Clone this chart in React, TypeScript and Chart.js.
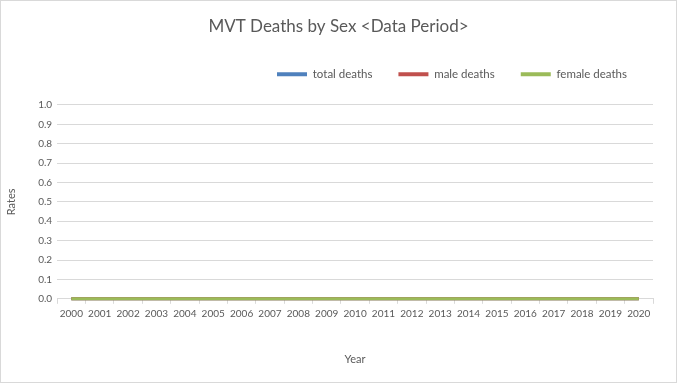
import React, { useEffect, useRef } from "react";
import { Chart, registerables } from "chart.js";

Chart.register(...registerables);

const years = ["2000","2001","2002","2003","2004","2005","2006","2007","2008","2009","2010","2011","2012","2013","2014","2015","2016","2017","2018","2019","2020"];
const totalDeaths = [0,0,0,0,0,0,0,0,0,0,0,0,0,0,0,0,0,0,0,0,0];
const maleDeaths = [0,0,0,0,0,0,0,0,0,0,0,0,0,0,0,0,0,0,0,0,0];
const femaleDeaths = [0,0,0,0,0,0,0,0,0,0,0,0,0,0,0,0,0,0,0,0,0];
const seriesNames = ["total deaths", "male deaths", "female deaths"];
const seriesColors = ["#4F81BD", "#C0504D", "#9BBB59"];
const titleText = "MVT Deaths by Sex <Data Period>";
const yTitle = "Rates";
const xTitle = "Year";

const TEXT = "#595959";
const GRID = "#D9D9D9";
const FONT = "Lato";

export default function App() {
  const ref = useRef<HTMLCanvasElement | null>(null);
  useEffect(() => {
    if (!ref.current) return;
    const frame = {
      id: "frame",
      beforeDraw(chart: any) {
        const c = chart.ctx;
        c.save();
        c.fillStyle = "#ffffff";
        c.fillRect(0, 0, chart.width, chart.height);
        c.strokeStyle = GRID;
        c.lineWidth = 1;
        c.strokeRect(0.5, 0.5, chart.width - 1, chart.height - 1);
        c.restore();
      },
    };
    const legendGap = {
      id: "legendGap",
      beforeLayout(chart: any) {
        const lg = chart.legend;
        if (lg && !lg.__patched) {
          const fit = lg.fit;
          lg.fit = function () {
            fit.call(this);
            this.height += 15;
          };
          lg.__patched = true;
        }
      },
    };
    const mk = (label: string, data: number[], color: string, order: number) => ({
      label,
      data,
      borderColor: color,
      backgroundColor: color,
      borderWidth: 3,
      pointRadius: 0,
      pointHoverRadius: 0,
      tension: 0,
      fill: false,
      clip: false,
      order,
    });
    const chart = new Chart(ref.current, {
      type: "line",
      data: {
        labels: years,
        datasets: [
          mk(seriesNames[0], totalDeaths, seriesColors[0], 2),
          mk(seriesNames[1], maleDeaths, seriesColors[1], 1),
          mk(seriesNames[2], femaleDeaths, seriesColors[2], 0),
        ],
      },
      options: {
        animation: false,
        responsive: false,
        devicePixelRatio: 1,
        layout: { padding: { left: 0, right: 0, top: 0, bottom: 0 } },
        plugins: {
          tooltip: { enabled: false },
          title: {
            display: true,
            text: titleText,
            color: TEXT,
            font: { family: FONT, size: 17, weight: "normal" },
            padding: { top: 16, bottom: 6 },
          },
          legend: {
            display: true,
            position: "top",
            align: "end",
            fullSize: false,
            labels: {
              color: TEXT,
              font: { family: FONT, size: 11.5 },
              boxWidth: 30,
              boxHeight: 4,
              padding: 26,
              sort: (a: any, b: any) => a.datasetIndex - b.datasetIndex,
              generateLabels: (chart: any) =>
                Chart.defaults.plugins.legend.labels
                  .generateLabels(chart)
                  .map((l: any) => ({ ...l, lineWidth: 0, fillStyle: l.strokeStyle })),
            },
          },
        },
        scales: {
          x: {
            type: "category",
            offset: true,
            grid: {
              display: true,
              offset: true,
              drawOnChartArea: false,
              drawTicks: true,
              tickLength: 5,
              color: GRID,
            },
            border: { display: true, color: GRID },
            ticks: {
              color: TEXT,
              font: { family: FONT, size: 10 },
              padding: 4,
              autoSkip: false,
              maxRotation: 0,
              minRotation: 0,
            },
            title: {
              display: true,
              text: xTitle,
              color: TEXT,
              font: { family: FONT, size: 11 },
              padding: { top: 29, bottom: 17 },
            },
          },
          y: {
            min: 0,
            max: 1,
            grid: { color: GRID, drawTicks: false },
            border: { display: false },
            ticks: {
              stepSize: 0.1,
              color: TEXT,
              font: { family: FONT, size: 10 },
              padding: 5,
              callback: (v: any) => Number(v).toFixed(1),
            },
            title: {
              display: true,
              text: yTitle,
              color: TEXT,
              font: { family: FONT, size: 11 },
              padding: { top: 5, bottom: 15 },
            },
          },
          yRight: {
            type: "linear",
            position: "right",
            display: true,
            grid: { display: false, drawTicks: false },
            border: { display: false },
            ticks: { display: false },
            afterFit: (s: any) => {
              s.width = 24;
            },
          },
        },
      },
      plugins: [frame, legendGap],
    } as any);
    return () => chart.destroy();
  }, []);
  return (
    <div style={{ position: "fixed", left: 0, top: 0, width: 677, height: 383 }}>
      <canvas ref={ref} width={677} height={383} />
    </div>
  );
}
